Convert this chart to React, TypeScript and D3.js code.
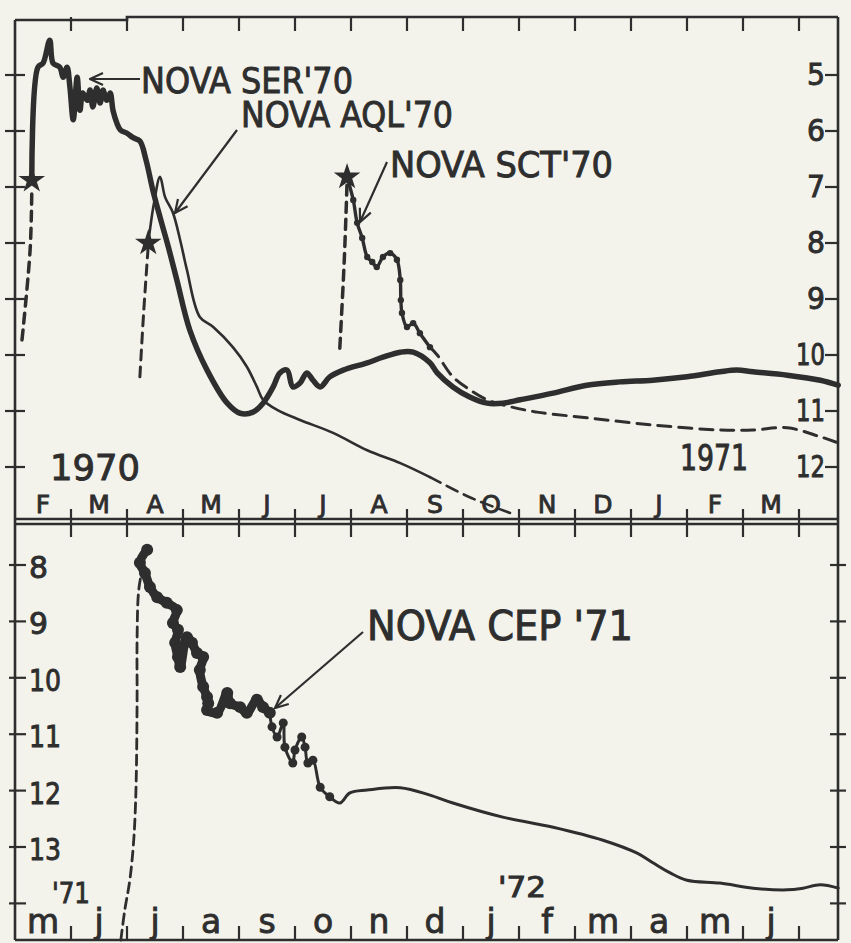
import React from "react";
import * as d3 from "d3";

// ---------- axis labels ----------
const topMonths = ["F", "M", "A", "M", "J", "J", "A", "S", "O", "N", "D", "J", "F", "M"];
const bottomMonths = ["m", "j", "j", "a", "s", "o", "n", "d", "j", "f", "m", "a", "m", "j"];
const topMagTicks = [5, 6, 7, 8, 9, 10, 11, 12];
const bottomMagTicks = [8, 9, 10, 11, 12, 13, 14];
const bottomMagLabels = [8, 9, 10, 11, 12, 13];

// ---------- data: [months since 1 Feb 1970 (top) / 1 May 1971 (bottom), magnitude] ----------
const serRise: [number, number][] = [[0.125, 9.73], [0.27, 8.12], [0.3, 7.05]];
const serCurve: [number, number][] = [
  [0.3, 6.88], [0.41, 4.86], [0.5, 4.79], [0.62, 4.38], [0.68, 4.79], [0.8, 4.86], [0.86, 5.04],
  [0.93, 4.86], [0.98, 5.21], [1.04, 5.8], [1.11, 5.04], [1.16, 5.63], [1.21, 5.32], [1.29, 5.45],
  [1.34, 5.27], [1.39, 5.57], [1.46, 5.23], [1.52, 5.5], [1.57, 5.27], [1.64, 5.45], [1.7, 5.32],
  [1.75, 5.63], [1.82, 5.86], [1.88, 5.98], [2.0, 6.04], [2.11, 6.12], [2.23, 6.18], [2.34, 6.52],
  [2.46, 7.05], [2.59, 7.54], [2.73, 8.04], [2.89, 8.66], [3.12, 9.55], [3.43, 10.27], [3.79, 10.86],
  [4.02, 11.04], [4.25, 11.02], [4.43, 10.86], [4.61, 10.57], [4.73, 10.32], [4.86, 10.27],
  [4.96, 10.57], [5.09, 10.5], [5.21, 10.32], [5.32, 10.45], [5.45, 10.57], [5.62, 10.39],
  [5.86, 10.27], [6.29, 10.14], [6.57, 10.04], [6.88, 9.95], [7.11, 9.95], [7.41, 10.14],
  [7.54, 10.32], [7.82, 10.57], [8.12, 10.75], [8.43, 10.86], [8.71, 10.86], [9.02, 10.8],
  [9.61, 10.68], [10.21, 10.54], [10.8, 10.48], [11.39, 10.45], [12.0, 10.39], [12.59, 10.3],
  [12.89, 10.27], [13.18, 10.3], [13.79, 10.36], [14.38, 10.45], [14.7, 10.54],
];
const aqlRise: [number, number][] = [[2.23, 10.39], [2.3, 9.2], [2.38, 8.04]];
const aqlCurve: [number, number][] = [
  [2.38, 8.0], [2.48, 7.3], [2.59, 6.82], [2.68, 7.18], [2.82, 7.46], [2.95, 7.95], [3.07, 8.48],
  [3.3, 9.32], [3.54, 9.5], [3.89, 9.86], [4.14, 10.21], [4.32, 10.57], [4.43, 10.8], [4.68, 10.98],
  [5.09, 11.16], [5.68, 11.39], [6.29, 11.7], [6.88, 11.93], [7.41, 12.18],
];
const aqlTail: [number, number][] = [[7.41, 12.18], [8.12, 12.54], [8.84, 12.82]];
const sctRise: [number, number][] = [[5.8, 9.88], [5.88, 8.3], [5.93, 6.91]];
const sctCurve: [number, number][] = [
  [5.93, 6.82], [6.04, 7.23], [6.11, 7.64], [6.2, 7.91], [6.29, 8.25], [6.38, 8.34], [6.46, 8.43],
  [6.57, 8.25], [6.7, 8.18], [6.82, 8.3], [6.88, 8.66], [6.89, 9.02], [6.91, 9.25], [7.0, 9.5],
  [7.11, 9.43], [7.23, 9.61], [7.41, 9.86],
];
const sctTail: [number, number][] = [
  [7.41, 9.86], [7.54, 10.0], [7.82, 10.39], [8.12, 10.62], [8.43, 10.8], [8.71, 10.89], [9.32, 11.02],
  [10.21, 11.12], [11.39, 11.25], [12.59, 11.34], [13.18, 11.34], [13.79, 11.3], [14.38, 11.46],
  [14.7, 11.57],
];
const cepRise: [number, number][] = [
  [1.89, 14.65], [1.96, 14.12], [2.05, 13.59], [2.12, 12.88], [2.16, 11.99], [2.18, 10.39],
  [2.18, 9.33], [2.21, 8.44], [2.29, 8.0], [2.34, 7.77],
];
const cepBlob: [number, number][] = [
  [2.36, 7.73], [2.23, 7.96], [2.32, 8.14], [2.41, 8.39], [2.54, 8.57], [2.71, 8.67], [2.89, 8.8],
  [2.82, 9.03], [2.91, 9.15], [2.86, 9.38], [2.91, 9.63], [2.95, 9.81], [3.07, 9.28], [3.16, 9.38],
  [3.25, 9.56], [3.36, 9.63], [3.3, 9.86], [3.36, 10.16], [3.43, 10.34], [3.45, 10.45], [3.43, 10.57],
  [3.61, 10.62], [3.79, 10.27], [3.84, 10.45], [4.02, 10.52], [4.14, 10.62], [4.32, 10.39],
  [4.43, 10.52], [4.55, 10.62],
];
const cepCurve: [number, number][] = [
  [4.55, 10.62], [4.59, 10.87], [4.68, 11.05], [4.79, 10.8], [4.82, 11.23], [4.96, 11.51], [5.0, 11.28],
  [5.12, 11.05], [5.18, 11.23], [5.23, 11.51], [5.32, 11.46], [5.45, 11.94], [5.62, 12.11],
  [5.8, 12.22], [5.98, 12.04], [6.29, 11.99], [6.88, 11.95], [7.41, 12.08], [7.82, 12.22],
  [8.71, 12.47], [9.61, 12.65], [10.5, 12.88], [11.11, 13.11], [11.39, 13.28], [11.7, 13.46],
  [12.0, 13.59], [12.59, 13.64], [13.18, 13.73], [13.79, 13.76], [14.07, 13.73], [14.38, 13.67],
  [14.7, 13.73],
];
const cepDots = 13; // first points of cepCurve drawn with dots

const INK = "#2e2e2e";
const PAPER = "#f3f3ec";
const FONT = "'DejaVu Sans Condensed', 'DejaVu Sans', sans-serif";
const FONT_WIDE = "'DejaVu Sans', sans-serif";

export default function App() {
  const x = d3.scaleLinear().domain([0, 14]).range([15, 799]);
  const yTop = d3.scaleLinear().domain([5, 12]).range([75, 467]);
  const yBot = d3.scaleLinear().domain([8, 13]).range([565, 847]);

  const lineTop = d3
    .line<[number, number]>()
    .x((d) => x(d[0]))
    .y((d) => yTop(d[1]))
    .curve(d3.curveCatmullRom.alpha(0.5));
  const lineBot = d3
    .line<[number, number]>()
    .x((d) => x(d[0]))
    .y((d) => yBot(d[1]))
    .curve(d3.curveCatmullRom.alpha(0.5));

  const star = d3.symbol(d3.symbolStar, 150)() as string;
  const monthTicks = d3.range(1, 15);
  const monthCentres = d3.range(0, 14).map((i) => i + 0.5);

  const text = (
    s: string,
    px: number,
    py: number,
    size: number,
    len?: number,
    anchor: string = "start",
    family: string = FONT
  ) => (
    <text
      x={px}
      y={py}
      fontSize={size}
      fontFamily={family}
      fill={INK}
      stroke={INK}
      strokeWidth={0.9}
      textAnchor={anchor}
      textLength={len}
      lengthAdjust={len ? "spacingAndGlyphs" : undefined}
    >
      {s}
    </text>
  );

  return (
    <svg
      width={851}
      height={943}
      style={{ position: "absolute", left: 0, top: 0 }}
      xmlns="http://www.w3.org/2000/svg"
    >
      <defs>
        <marker
          id="ah"
          viewBox="0 0 16 16"
          refX="15"
          refY="8"
          markerWidth="16"
          markerHeight="16"
          markerUnits="userSpaceOnUse"
          orient="auto"
        >
          <path d="M2,2 L15,8 L2,14" fill="none" stroke={INK} strokeWidth={2.2} />
        </marker>
      </defs>
      <rect width={851} height={943} fill={PAPER} />

      {/* frame */}
      <g stroke={INK} strokeWidth={2.6} fill="none">
        <path d="M15,20 H127 V17 H838" />
        <line x1={15} y1={20} x2={15} y2={940} />
        <line x1={838} y1={17} x2={838} y2={940} />
        <line x1={15} y1={519} x2={838} y2={519} />
        <line x1={15} y1={524} x2={838} y2={524} />
        <line x1={15} y1={940} x2={838} y2={940} />
      </g>

      {/* ticks */}
      <g stroke={INK} strokeWidth={2.2}>
        {monthTicks.map((m) => (
          <g key={"mt" + m}>
            <line x1={x(m)} y1={17} x2={x(m)} y2={31} />
            <line x1={x(m)} y1={509} x2={x(m)} y2={537} />
            <line x1={x(m)} y1={940} x2={x(m)} y2={926} />
          </g>
        ))}
        {topMagTicks.map((m) => (
          <g key={"tm" + m}>
            <line x1={5} y1={yTop(m)} x2={25} y2={yTop(m)} />
            <line x1={825} y1={yTop(m)} x2={838} y2={yTop(m)} />
          </g>
        ))}
        {bottomMagTicks.map((m) => (
          <g key={"bm" + m}>
            <line x1={9} y1={yBot(m)} x2={26} y2={yBot(m)} />
            <line x1={830} y1={yBot(m)} x2={846} y2={yBot(m)} />
          </g>
        ))}
      </g>

      {/* axis labels */}
      {topMonths.map((s, i) => (
        <g key={"tl" + i}>{text(s, x(monthCentres[i]), 513, 25, undefined, "middle", FONT_WIDE)}</g>
      ))}
      {bottomMonths.map((s, i) => (
        <g key={"bl" + i}>{text(s, x(monthCentres[i]), 933, 33, undefined, "middle", FONT_WIDE)}</g>
      ))}
      {topMagTicks.map((m) => (
        <g key={"tml" + m}>{text(String(m), 825, yTop(m) + 10, 31, m >= 10 ? 29 : 18, "end")}</g>
      ))}
      {bottomMagLabels.map((m) => (
        <g key={"bml" + m}>{text(String(m), 29, yBot(m) + 13, 31, m >= 10 ? 32 : 19)}</g>
      ))}
      {text("1970", 50, 480, 36, 90)}
      {text("1971", 680, 470, 36, 68)}
      {text("'71", 52, 903, 28, 38)}
      {text("'72", 498, 897, 28, 48)}

      {/* curves, top panel */}
      <g fill="none" stroke={INK} strokeLinecap="round" strokeLinejoin="round">
        <path d={lineTop(serRise) as string} strokeWidth={3.5} strokeDasharray="10 7" />
        <path d={lineTop(serCurve) as string} strokeWidth={5.5} />
        <path d={lineTop(aqlRise) as string} strokeWidth={3} strokeDasharray="10 7" />
        <path d={lineTop(aqlCurve) as string} strokeWidth={2.6} />
        <path d={lineTop(aqlTail) as string} strokeWidth={2.6} strokeDasharray="12 7" />
        <path d={lineTop(sctRise) as string} strokeWidth={3.5} strokeDasharray="10 7" />
        <path d={lineTop(sctCurve) as string} strokeWidth={3.4} />
        <path d={lineTop(sctTail) as string} strokeWidth={3} strokeDasharray="13 8" />
      </g>
      <g fill={INK}>
        {sctCurve.map((d, i) => (
          <circle key={"sd" + i} cx={x(d[0])} cy={yTop(d[1])} r={3.2} />
        ))}
        {[serCurve[0], aqlCurve[0], sctCurve[0]].map((d, i) => (
          <path key={"st" + i} d={star} transform={`translate(${x(d[0])},${yTop(d[1])})`} stroke={INK} strokeWidth={1.5} />
        ))}
      </g>

      {/* curves, bottom panel */}
      <g fill="none" stroke={INK} strokeLinecap="round" strokeLinejoin="round">
        <path d={lineBot(cepRise) as string} strokeWidth={2.8} strokeDasharray="10 6" />
        <path d={lineBot(cepBlob) as string} strokeWidth={9} />
        <path d={lineBot(cepCurve) as string} strokeWidth={3} />
      </g>
      <g fill={INK}>
        {cepBlob.map((d, i) => (
          <circle key={"cb" + i} cx={x(d[0])} cy={yBot(d[1])} r={6} />
        ))}
        {cepCurve.slice(0, cepDots).map((d, i) => (
          <circle key={"cd" + i} cx={x(d[0])} cy={yBot(d[1])} r={4.5} />
        ))}
      </g>

      {/* annotations */}
      <g stroke={INK} strokeWidth={2.2} fill="none">
        <line x1={140} y1={79} x2={90} y2={79} markerEnd="url(#ah)" />
        <line x1={237} y1={130} x2={175} y2={213} markerEnd="url(#ah)" />
        <line x1={387} y1={162} x2={360} y2={222} markerEnd="url(#ah)" />
        <line x1={363} y1={632} x2={275} y2={708} markerEnd="url(#ah)" />
      </g>
      {text("NOVA SER'70", 141, 93, 36, 212)}
      {text("NOVA AQL'70", 241, 127, 36, 212)}
      {text("NOVA SCT'70", 390, 177, 36, 223)}
      {text("NOVA CEP '71", 367, 640, 40, 266)}
    </svg>
  );
}
